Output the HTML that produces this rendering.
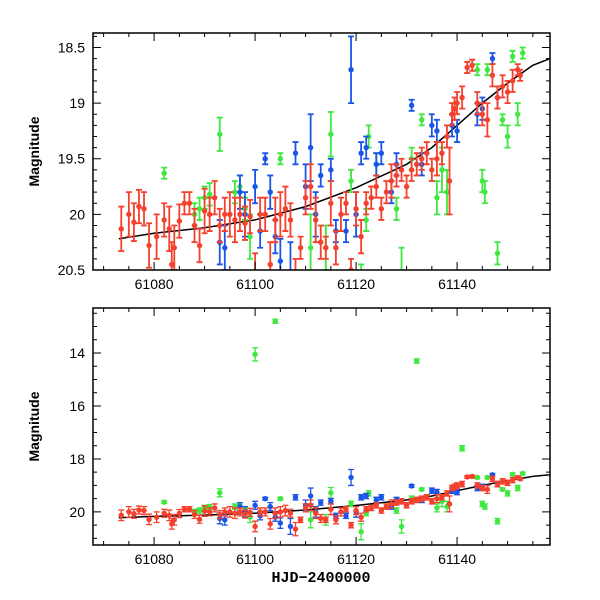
<!DOCTYPE html>
<html><head><meta charset="utf-8"><style>
body{margin:0;background:#fff}
svg{display:block;font-family:"Liberation Sans",sans-serif}
</style></head><body>
<svg id="chart" width="600" height="600" viewBox="0 0 600 600"></svg>
<script>
const redData=[[61073.5,20.13,.2],[61075,20.0,.2],[61076,20.07,.17],[61077,19.93,.15],[61078,19.95,.15],[61079,20.28,.2],[61080.5,20.2,.2],[61082,20.05,.15],[61083,20.13,.2],[61083.5,20.45,.2],[61084,20.3,.2],[61085,20.06,.15],[61086,19.9,.1],[61087,19.9,.1],[61088,20.1,.15],[61089,20.28,.15],[61090,19.97,.2],[61091,20.0,.15],[61092,19.85,.15],[61093,20.1,.15],[61094,20.0,.15],[61095,20.0,.2],[61096,20.05,.2],[61097,20.0,.15],[61098,20.08,.15],[61099,20.02,.15],[61100,20.55,.2],[61101,20.0,.15],[61102,20.0,.15],[61103,20.45,.2],[61104,20.05,.2],[61105,20.0,.2],[61106,19.95,.2],[61107,20.05,.15],[61108,20.65,.25],[61109,20.3,.1],[61110,19.85,.15],[61111,19.75,.2],[61112,20.05,.2],[61113,20.25,.15],[61114,20.3,.1],[61115,19.9,.2],[61116,20.3,.15],[61117,20.0,.15],[61118,19.9,.1],[61119,20.5,.1],[61120,19.95,.15],[61121,20.2,.15],[61122,19.9,.1],[61123,19.85,.1],[61124,19.75,.1],[61125,19.95,.1],[61126,19.8,.1],[61127,19.7,.15],[61128,19.65,.1],[61129,19.6,.1],[61130,19.75,.1],[61131,19.6,.1],[61132,19.55,.1],[61133,19.5,.1],[61134,19.45,.1],[61135,19.6,.1],[61136,19.5,.15],[61137,19.45,.1],[61138,19.3,.1],[61138.5,19.7,.3],[61139,19.1,.1],[61139.5,19.05,.1],[61140,19.0,.1],[61141,18.95,.1],[61142,18.68,.05],[61143,18.66,.05],[61144,19.0,.1],[61145,19.1,.1],[61146,19.15,.15],[61147,18.75,.1],[61148,18.95,.1],[61149,18.85,.1],[61150,18.9,.1],[61151,18.8,.1],[61152,18.7,.05],[61152.5,18.75,.05]];
const greenData=[[61082,19.63,.05],[61088,20.0,.1],[61089,19.95,.1],[61090,19.85,.1],[61091,19.82,.1],[61093,19.28,.15],[61096,19.8,.1],[61097,19.75,.1],[61098,19.95,.1],[61099,20.2,.2],[61100,14.05,.25],[61104,12.8,.08],[61105,19.5,.05],[61111,20.3,.3],[61114,20.3,.2],[61115,19.28,.2],[61119,19.7,.1],[61121,20.75,.3],[61122,20.05,.1],[61122.5,19.3,.1],[61124,19.55,.1],[61128,19.95,.1],[61129,20.55,.25],[61131,19.5,.1],[61132,14.3,.08],[61133,19.15,.05],[61136,19.85,.15],[61137,19.6,.2],[61138,19.8,.2],[61141,17.6,.1],[61144,18.7,.05],[61145,19.7,.1],[61145.5,19.8,.1],[61146,18.7,.05],[61148,20.35,.1],[61149,19.15,.05],[61150,19.3,.1],[61151,18.58,.05],[61152,19.1,.1],[61153,18.55,.05]];
const blueData=[[61093,20.25,.2],[61094,20.3,.2],[61097,19.8,.15],[61098,20.0,.2],[61100,19.75,.15],[61101,20.15,.15],[61102,19.5,.05],[61103,19.8,.15],[61104,20.2,.15],[61105,20.42,.2],[61107,20.55,.3],[61108,19.45,.1],[61110,19.75,.2],[61111,19.4,.3],[61112,20.0,.2],[61113,19.65,.1],[61115,19.6,.1],[61116,20.15,.1],[61118,20.15,.1],[61119,18.7,.3],[61120,20.0,.2],[61121,19.45,.1],[61122,19.4,.1],[61124,19.55,.1],[61125,19.45,.1],[61127,19.8,.1],[61128,19.55,.1],[61131,19.02,.05],[61133,19.55,.1],[61135,19.2,.1],[61136,19.25,.1],[61139,19.2,.1],[61140,19.25,.1],[61144,19.1,.1],[61145,19.05,.1],[61147,18.6,.05],[61148,18.95,.1]];
const modelT=[61073,61080,61090,61100,61110,61120,61130,61135,61140,61145,61150,61155,61158.4];
const modelMag=[20.22,20.17,20.12,20.05,19.93,19.76,19.55,19.4,19.2,19.0,18.82,18.66,18.6];
const xTicks=[61080,61100,61120,61140];
const topYTicks=[18.5,19,19.5,20,20.5];
const botYTicks=[14,16,18,20];

const NS="http://www.w3.org/2000/svg";
const svg=document.getElementById('chart');
function mk(tag,attrs,parent){const e=document.createElementNS(NS,tag);for(const k in attrs)e.setAttribute(k,attrs[k]);(parent||svg).appendChild(e);return e;}
const X0=93,X1=550,T0=61067.9,T1=61158.4;
const xs=t=>X0+(t-T0)/(T1-T0)*(X1-X0);

function panel(name,top,bot,m0,m1,yTicks,minorY,thick){
  const g=mk('g',{});
  
  
  const ys=m=>top+(m-m0)/(m1-m0)*(bot-top);
  const cid='clip-'+name;
  const cp=mk('clipPath',{id:cid},g);mk('rect',{x:X0,y:top,width:X1-X0,height:bot-top},cp);
  const plot=mk('g',{'clip-path':'url(#'+cid+')'},g);
  let d='';modelT.forEach((t,i)=>{d+=(i?'L':'M')+xs(t).toFixed(1)+','+ys(modelMag[i]).toFixed(1);});
  const c=mk('path',{d:d,fill:'none',stroke:'#000','stroke-width':1.5},plot);
  
  
  const series=[['green-series',greenData,'#3ee83e'],['blue-series',blueData,'#1a55e8'],['red-series',redData,'#f4402c']];
  series.forEach(([sn,data,col])=>{
    const sg=mk('g',{},plot);
    
    
    data.forEach(([t,m,e])=>{
      const x=xs(t),y=ys(m),ya=ys(m-e),yb=ys(m+e);
      mk('path',{d:`M${x},${ya}V${yb}M${x-3},${ya}h6M${x-3},${yb}h6`,stroke:col,'stroke-width':thick,fill:'none'},sg);
      const p=mk('circle',{cx:x,cy:y,r:2.7,fill:col},sg);
      
      
    });
  });
  mk('rect',{x:X0,y:top,width:X1-X0,height:bot-top,fill:'none',stroke:'#000','stroke-width':1.5},g);
  for(let t=61070;t<=61158;t+=5){const x=xs(t);const L=(t%20===0)?8:4;
    mk('path',{d:`M${x},${bot}v${-L}M${x},${top}v${L}`,stroke:'#000','stroke-width':1},g);}
  xTicks.forEach(t=>{const tx=mk('text',{x:xs(t),y:bot+19,'text-anchor':'middle','font-size':14,fill:'#000'},g);tx.textContent=t;
    });
  for(let m=Math.ceil(m0/minorY)*minorY;m<=m1+1e-6;m+=minorY){const y=ys(m);
    const isMaj=yTicks.some(v=>Math.abs(v-m)<1e-6);const L=isMaj?8:4;
    mk('path',{d:`M${X0},${y}h${L}M${X1},${y}h${-L}`,stroke:'#000','stroke-width':1},g);}
  yTicks.forEach(m=>{const tx=mk('text',{x:X0-8,y:ys(m)+5,'text-anchor':'end','font-size':14,fill:'#000'},g);tx.textContent=m;
    });
  const yl=mk('text',{x:0,y:0,transform:`translate(39,${(top+bot)/2}) rotate(-90)`,'text-anchor':'middle','font-size':14,'font-weight':'bold',fill:'#000'},g);
  yl.textContent='Magnitude';
  
  
}
panel('top-panel',33,270,18.37,20.5,topYTicks,0.1,1.8);
panel('bottom-panel',308,545,12.3,21.25,botYTicks,0.5,1.3);
const xl=mk('text',{x:321,y:582,'text-anchor':'middle','font-size':15,'font-weight':'bold','font-family':'Liberation Mono, monospace',fill:'#000'});
xl.textContent='HJD−2400000';


</script>
</body></html>
